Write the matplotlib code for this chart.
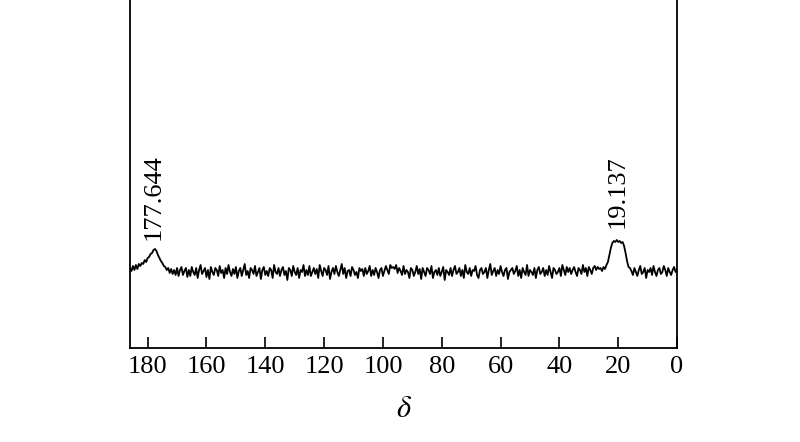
import matplotlib
matplotlib.use("Agg")
import matplotlib.pyplot as plt
import numpy as np

plt.rcParams['font.family'] = ['Liberation Serif', 'DejaVu Serif']
plt.rcParams['mathtext.fontset'] = 'stix'

# chemical shift grid, 186 -> 0 ppm in 0.5 ppm steps
ppm = np.arange(186, -0.25, -0.5)

# signal (baseline = 0), 20 points per row
intensity = [
    4, 1, 6, 2, 7, 3, 8, 6, 9, 8, 12, 10, 14, 15, 18, 19, 22, 23, 21, 17,
    14, 11, 9, 6, 5, 2, 4, -1, 3, -2, 2, -3, 4, -4, 2, 5, -3, 1, 4, -5,
    2, -4, 5, 0, -3, 4, -6, 2, 7, -2, 1, 4, -5, 2, -7, 5, 0, -3, 4, 2,
    -4, 6, -1, 2, -6, 4, -2, 7, 0, -4, 3, -2, 5, -6, 1, 4, -4, 2, 8, -3,
    1, -6, 4, 2, -2, 6, -4, 0, 4, -7, 2, 5, -3, 1, -4, 4, 2, -6, 7, 0,
    -2, 4, -4, 2, 5, -3, 1, -8, 4, 2, -4, 6, 0, -3, 4, -6, 2, 0, 7, -4,
    2, -3, 6, -4, 0, 4, -2, 3, -6, 7, 1, -4, 4, 2, -3, 6, -7, 0, 4, -2,
    6, 0, -4, 2, 8, -2, 4, -6, 1, 2, -4, 5, 2, -3, 0, -6, 4, 1, 3, -4,
    4, -2, 1, 6, -4, 2, -3, 4, 0, -6, 2, 4, -4, 1, 6, 2, -2, 7, 4, 5,
    3, 7, -1, 4, 1, -3, 6, -2, 2, 0, -6, 4, 2, -4, 0, 6, -2, 3, -7, 4,
    0, -4, 4, 2, -2, 6, -6, 0, 2, -3, 4, -4, 0, 5, -8, 2, 0, -3, 4, -4,
    2, 6, -2, 0, 4, -4, 2, -6, 7, 0, -2, 4, -4, 2, 1, 6, -3, -6, 2, 4,
    -2, 0, 4, -6, 2, 8, -3, 1, 4, -4, 2, -2, 6, 0, -4, 2, 4, -7, 0, 2,
    4, -2, 1, 6, -4, 2, -6, 4, 0, -3, 7, -4, 2, 0, -3, 4, -6, 2, 5, -2,
    0, 4, -4, 2, -3, 6, 0, -6, 4, 2, -2, 0, 4, -4, 7, 2, -3, 5, 0, 4,
    -2, 2, 5, 0, -4, 4, 2, -2, 7, 0, 4, -4, 5, 2, -2, 4, 6, 2, 5, 3,
    4, 1, 5, 3, 7, 10, 17, 24, 29, 31, 30, 32, 30, 31, 29, 30, 26, 19, 11, 5,
    4, 1, -3, 4, 0, -4, 2, 6, -2, 0, 4, -6, 2, 0, 4, -3, 6, 0, -4, 2,
    4, -2, 0, 6, 2, -4, 4, 0, -3, 2, 5, 0, 2,
]

peak_labels = ["177.644", "19.137"]
peak_pos = [177.644, 19.137]
label_height = [32, 44]
ticks = [180, 160, 140, 120, 100, 80, 60, 40, 20, 0]

fig = plt.figure(figsize=(8, 4.42), dpi=100)
ax = fig.add_axes([0.1625, 0.2127, 0.6838, 0.7873])

ax.plot(ppm, intensity, color='black', lw=1.3)

offsets = [0.2, 1.0]
for lab, p, h, dx in zip(peak_labels, peak_pos, label_height, offsets):
    ax.text(p + dx, h, lab, rotation=90, ha='center', va='bottom', fontsize=19)

ax.set_xlim(186, 0)
ax.set_ylim(-76, 272)
ax.set_xticks(ticks)
ax.set_yticks([])
ax.tick_params(axis='x', direction='in', length=8, width=1.2, labelsize=19, pad=6)
for s in ['left', 'right', 'bottom']:
    ax.spines[s].set_linewidth(1.3)
ax.spines['top'].set_visible(False)
ax.set_xlabel(r'$\delta$', fontsize=22, labelpad=12)

fig.savefig('out.png', dpi=100)
